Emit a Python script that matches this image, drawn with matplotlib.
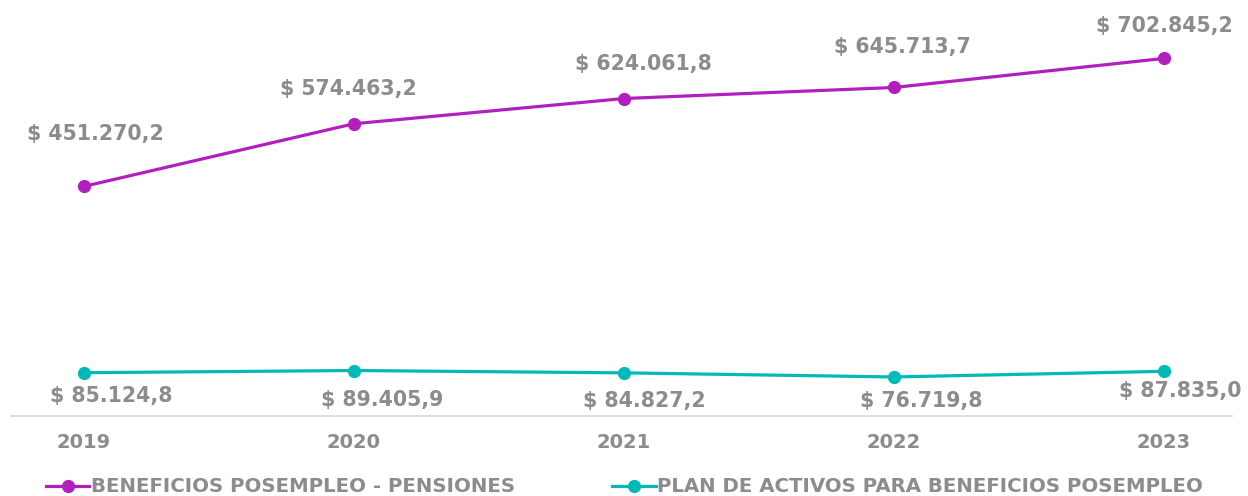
import matplotlib.pyplot as plt

years = ['2019', '2020', '2021', '2022', '2023']
pensiones = [451270.2, 574463.2, 624061.8, 645713.7, 702845.2]
plan_activos = [85124.8, 89405.9, 84827.2, 76719.8, 87835.0]
serie_nombres = ['BENEFICIOS POSEMPLEO - PENSIONES', 'PLAN DE ACTIVOS PARA BENEFICIOS POSEMPLEO']

# label offsets in points (hand placed like the original)
off_pen = [(8, 38), (-4, 25), (14, 25), (6, 29), (0, 23)]
off_plan = [(20, -17), (20, -21), (15, -20), (20, -17), (12, -14)]

PURPLE = '#B31FBF'
TEAL = '#00B9B9'
GRAY = '#8C8C8C'

def fmt(v):
    s = '{:,.1f}'.format(v)
    s = s.replace(',', 'X').replace('.', ',').replace('X', '.')
    return '$ ' + s

plt.rcParams['font.family'] = ['DejaVu Sans']

fig = plt.figure(figsize=(12.48, 4.96), dpi=100)
ax = fig.add_axes([11 / 1248, 1 - 416 / 496, (1232 - 11) / 1248, (416 - 9) / 496])

x = list(range(len(years)))
ax.plot(x, pensiones, color=PURPLE, lw=2.3, marker='o', ms=8.5, label=serie_nombres[0])
ax.plot(x, plan_activos, color=TEAL, lw=2.3, marker='o', ms=8.5, label=serie_nombres[1])

for i in x:
    ax.annotate(fmt(pensiones[i]), (i, pensiones[i]), xytext=off_pen[i], textcoords='offset points',
                ha='center', va='center', fontsize=14.8, fontweight='bold', color=GRAY)
    ax.annotate(fmt(plan_activos[i]), (i, plan_activos[i]), xytext=off_plan[i], textcoords='offset points',
                ha='center', va='center', fontsize=14.8, fontweight='bold', color=GRAY)

ax.set_xlim(-0.27, 4.252)
ax.set_ylim(0, 800000)
ax.set_xticks(x)
ax.set_xticklabels(years, fontsize=14, fontweight='bold', color=GRAY)
ax.tick_params(axis='x', length=0, pad=12)
ax.set_yticks([])
for side in ['top', 'right', 'left']:
    ax.spines[side].set_visible(False)
ax.spines['bottom'].set_color('#D9D9D9')
ax.spines['bottom'].set_linewidth(1.2)

leg = fig.legend(loc='center left', bbox_to_anchor=(46 / 1248, 1 - 487 / 496), ncol=2, frameon=False,
                 prop={'size': 14.2, 'weight': 'bold'}, handlelength=2.2, handletextpad=0.1,
                 columnspacing=4.9, borderaxespad=0, borderpad=0)
for t in leg.get_texts():
    t.set_color(GRAY)

fig.savefig('out.png', dpi=100)
